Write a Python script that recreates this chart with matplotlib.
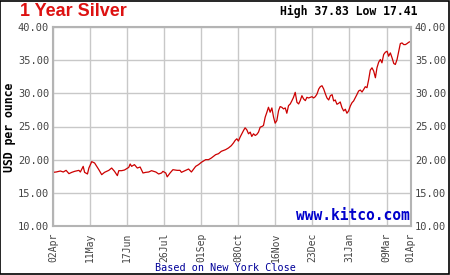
import matplotlib
matplotlib.use("Agg")
import matplotlib.pyplot as plt
from matplotlib.patches import Rectangle

# trading-day index (0 = 02Apr) and price
day = [0, 2, 5, 7, 9, 11, 13, 15, 18, 19, 21, 22, 24, 25, 27, 29, 32, 34, 36, 39,
       41, 43, 45, 46, 48, 50, 53, 54, 55, 57, 59, 61, 63, 65, 67, 69, 72, 74, 76,
       77, 79, 80, 82, 84, 87, 89, 90, 93, 95, 97, 100, 102, 104, 107, 109, 111,
       114, 116, 118, 121, 123, 125, 126.5, 127.7, 128.9, 130.0, 131.2, 132.4,
       133.6, 134.7, 135.9, 137.1, 138.3, 139.4, 140.6, 141.8, 142.9, 144.1, 145.3,
       146.5, 147.6, 148.8, 150.0, 151.1, 152.3, 153.5, 154.7, 155.8, 157.0, 158.2,
       159.3, 160.5, 161.7, 162.9, 164.0, 165.2, 166.4, 167.6, 168.7, 169.9, 171.1,
       172.3, 173.4, 174.6, 175.8, 177.0, 178.1, 179.3, 180.5, 181.7, 182.8, 184.0,
       185.2, 186.4, 187.5, 188.7, 189.9, 191.1, 192.2, 193.4, 194.6, 195.8, 196.9,
       198.0, 199.2, 200.4, 201.5, 202.7, 203.9, 205.1, 206.2, 207.4, 208.6, 209.8,
       210.9, 212.1, 213.3, 214.4, 215.6, 216.8, 218.0, 219.1, 220.3, 221.5, 222.6,
       223.8, 225.0, 226.2, 227.3, 228.5, 229.7, 230.8, 232.0, 233.2, 234.4, 235.5,
       236.7, 237.9, 239.1, 240.2, 241.4, 242.6, 243.7, 244.9, 246.1, 247.3, 248.4,
       249.6, 251]
price = [18.09, 18.14, 18.29, 18.14, 18.39, 17.89, 18.09, 18.24, 18.39, 18.14, 18.99,
         18.09, 17.84, 18.74, 19.70, 19.50, 18.49, 17.74, 18.09, 18.39, 18.74, 18.24,
         17.59, 18.34, 18.34, 18.44, 18.84, 19.35, 18.99, 19.25, 18.74, 18.89, 17.99,
         18.09, 18.14, 18.34, 18.14, 17.84, 17.99, 18.24, 17.99, 17.41, 17.99, 18.49,
         18.39, 18.39, 18.09, 18.39, 18.59, 18.14, 18.99, 19.25, 19.60, 20.00, 20.00,
         20.25, 20.75, 20.90, 21.26, 21.51, 21.76, 22.11, 22.51, 22.90, 23.15, 22.80,
         23.40, 23.90, 24.40, 24.80, 24.50, 23.90, 24.15, 23.50, 23.90, 23.65, 23.80,
         24.15, 24.90, 25.00, 25.15, 26.40, 27.15, 27.90, 27.15, 27.80, 26.40, 25.50,
         25.90, 27.40, 28.00, 27.90, 27.65, 27.80, 27.00, 28.15, 28.40, 28.90, 29.40,
         30.15, 28.65, 28.40, 28.90, 29.65, 29.15, 28.90, 29.40, 29.30, 29.40, 29.50,
         29.30, 29.50, 29.90, 30.65, 31.00, 31.15, 30.65, 29.90, 29.30, 29.00, 29.65,
         29.80, 28.85, 29.00, 28.35, 28.50, 28.70, 27.85, 27.35, 27.60, 27.00, 27.35,
         28.10, 28.60, 28.85, 29.35, 29.85, 30.35, 30.50, 30.20, 30.60, 31.00, 30.85,
         32.10, 33.50, 33.85, 33.35, 32.35, 33.85, 34.70, 35.10, 34.60, 35.85, 36.20,
         36.35, 35.60, 36.10, 35.35, 34.50, 34.35, 35.10, 36.35, 37.50, 37.60, 37.35,
         37.35, 37.50, 37.70, 37.83]

tick_days = [0, 26, 52, 78, 104, 130, 156, 182, 208, 234, 251]
tick_labels = ["02Apr", "11May", "17Jun", "26Jul", "01Sep", "08Oct", "16Nov",
               "23Dec", "31Jan", "09Mar", "01Apr"]
y_ticks = [10, 15, 20, 25, 30, 35, 40]

mono = ["DejaVu Sans Mono"]

fig = plt.figure(figsize=(4.5, 2.75), dpi=100)
fig.patch.set_facecolor("white")
ax = fig.add_axes([0.1184, 0.1782, 0.7943, 0.7236])

ax.plot(day, price, color="#cc0000", lw=0.9)
ax.set_xlim(0, 251)
ax.set_ylim(10, 40)
ax.set_xticks(tick_days)
ax.set_xticklabels(tick_labels, rotation=90, family=mono, fontsize=7, color="#444444")
ax.set_yticks(y_ticks)
ax.set_yticklabels([f"{v:.2f}" for v in y_ticks], family=mono, fontsize=7.5, color="#444444")
ax.tick_params(axis="both", length=0)
ax.tick_params(axis="y", pad=3, labelright=True, right=False)
ax.tick_params(axis="x", pad=5)
ax.grid(True, color="#c8c8c8", lw=1)
ax.set_axisbelow(True)
for s in ax.spines.values():
    s.set_color("#b4b4b4")
    s.set_linewidth(1.5)

fig.text(20 / 450, 1 - 12 / 275, "1 Year Silver", color="#dd1111", fontsize=13,
         fontweight="bold", family=["Liberation Sans"], va="center", ha="left")
fig.text(418 / 450, 1 - 11 / 275, "High 37.83 Low 17.41", color="black", fontsize=8.3,
         fontweight="bold", family=mono, va="center", ha="right")
fig.text(10 / 450, 1 - 127 / 275, "USD per ounce", color="black", fontsize=8.3,
         fontweight="bold", family=mono, rotation=90, va="center", ha="center")
fig.text(410 / 450, 1 - 223 / 275, "www.kitco.com", color="#0000cc", fontsize=10.5,
         fontweight="bold", family=mono, va="bottom", ha="right")
fig.text(225 / 450, 1 - 268 / 275, "Based on New York Close", color="#000099",
         fontsize=7.3, family=mono, va="center", ha="center")

fig.patches.append(Rectangle((0.001, 0.002), 0.997, 0.996, transform=fig.transFigure,
                             fill=False, edgecolor="black", lw=1.2))

fig.savefig("out.png", dpi=100, facecolor="white")
